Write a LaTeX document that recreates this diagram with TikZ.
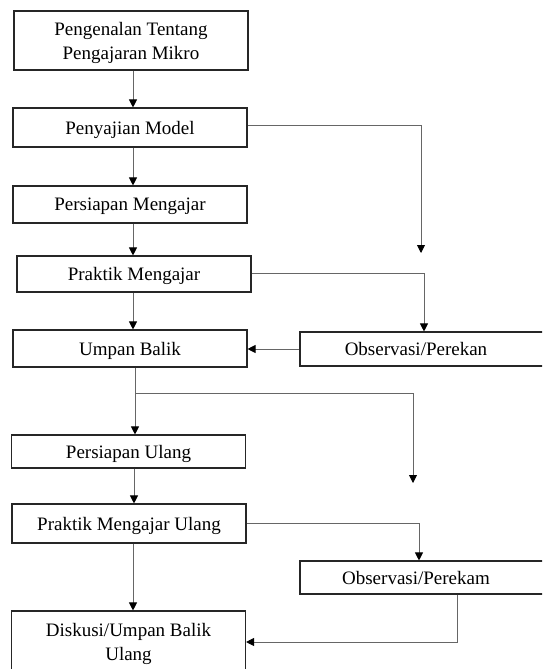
\documentclass[tikz,border=0pt]{standalone}
\usepackage{fontspec}
\setmainfont{Liberation Serif}
\usetikzlibrary{arrows.meta}
\usetikzlibrary{calc}

\begin{document}
\begin{tikzpicture}[x=1pt, y=-1pt,
		every text node part/.style={align=center},
		every node/.style={font=\fontsize{19}{24}\selectfont},
		box/.style={rectangle, draw=black!85, line width=1.1pt, minimum width=234pt, minimum height=37pt, inner sep=0pt, text depth=0pt},
		obs/.style={rectangle, draw=black!85, line width=1.1pt, minimum width=260pt, minimum height=34pt, inner sep=0pt, text depth=0pt},
		arrow/.style={-{Triangle[length=8pt, width=8pt, color=black]}, line width=0.9pt, black!60}]
		
		\useasboundingbox (0, 0) rectangle (542, 669);
		\clip (0, 0) rectangle (542, 669);
		
		% main column
		\node[box, minimum height=59pt] (intro) at (131, 40.5) {Pengenalan Tentang\\Pengajaran Mikro};
		\node[box, minimum height=39pt] (model) at (130, 127.5) {Penyajian Model};
		\node[box] (prep) at (130, 204.5) {Persiapan Mengajar};
		\node[box, minimum height=36pt] (practice) at (134, 274) {Praktik Mengajar};
		\node[box] (feedback) at (130, 348.5) {Umpan Balik};
		\node[box, minimum height=33pt] (reprep) at (128.5, 451.5) {Persiapan Ulang};
		\node[box, minimum height=39pt] (repractice) at (129, 523.5) {Praktik Mengajar Ulang};
		\node[box, minimum height=62pt] (discuss) at (128.5, 642) {Diskusi/Umpan Balik\\Ulang};
		
		% observation boxes
		\node[obs] (obs1) at (430, 349) {Observasi/Perekan\hspace{28pt}};
		\node[obs, minimum height=33pt] (obs2) at (430, 577.5) {Observasi/Perekam\hspace{28pt}};
		
		\coordinate (end1) at (421, 253);
		\coordinate (split) at (135, 393);
		\coordinate (end2) at (413, 483);
		
		\draw[arrow] ($(intro.south)+(2, 0)$) -- ($(model.north)+(3, 0)$);
		\draw[arrow] ($(model.south)+(3, 0)$) -- ($(prep.north)+(3, 0)$);
		\draw[arrow] ($(prep.south)+(3, 0)$) -- ($(practice.north)+(-1, 0)$);
		\draw[arrow] ($(practice.south)+(-1, 0)$) -- ($(feedback.north)+(3, 0)$);
		\draw[arrow] ($(feedback.south)+(5, 0)$) -- ($(reprep.north)+(6.5, 0)$);
		\draw[arrow] ($(reprep.south)+(5.5, 0)$) -- ($(repractice.north)+(5, 0)$);
		\draw[arrow] ($(repractice.south)+(4, 0)$) -- ($(discuss.north)+(4.5, 0)$);
		
		\draw[arrow] ($(model.east)+(0, -2)$) -| (end1);
		\draw[arrow] ($(practice.east)+(0, -1)$) -| ($(obs1.north)+(-6, 0)$);
		\draw[arrow] (obs1.west) -- (obs1.west -| feedback.east);
		\draw[arrow] (split) -| (end2);
		\draw[arrow] (repractice.east) -| ($(obs2.north)+(-11, 0)$);
		\draw[arrow] ($(obs2.south)+(27, 0)$) |- (discuss.east);
		
	\end{tikzpicture}
\end{document}
